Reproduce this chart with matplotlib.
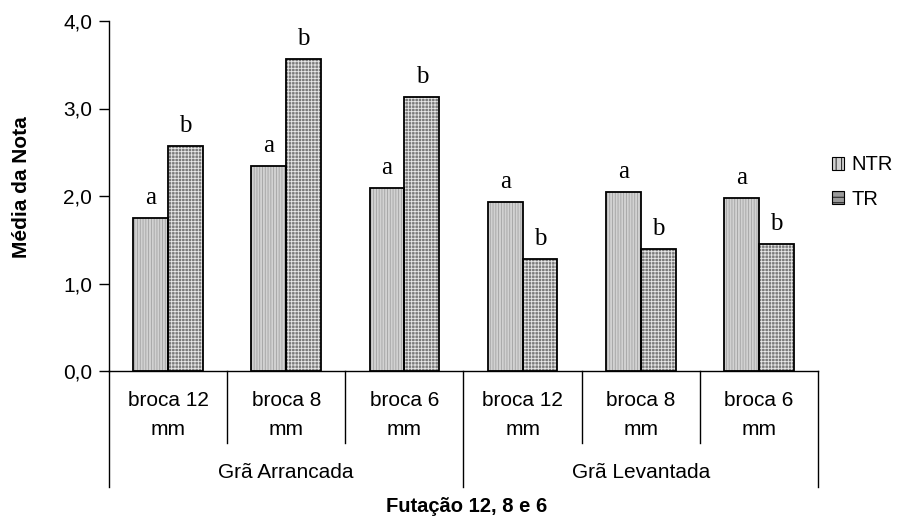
import matplotlib
matplotlib.use("Agg")
import matplotlib.pyplot as plt
import numpy as np
from matplotlib.patches import Patch
from matplotlib.lines import Line2D

categories = ["broca 12\nmm", "broca 8\nmm", "broca 6\nmm",
              "broca 12\nmm", "broca 8\nmm", "broca 6\nmm"]
groups = ["Grã Arrancada", "Grã Levantada"]
ntr = [1.75, 2.34, 2.09, 1.93, 2.05, 1.98]
tr = [2.57, 3.57, 3.13, 1.28, 1.40, 1.45]
ntr_letters = ["a", "a", "a", "a", "a", "a"]
tr_letters = ["b", "b", "b", "b", "b", "b"]
yticks = [0.0, 1.0, 2.0, 3.0, 4.0]
ytick_labels = ["0,0", "1,0", "2,0", "3,0", "4,0"]

plt.rcParams['font.family'] = ['Liberation Sans', 'DejaVu Sans']

FS = 15

fig = plt.figure(figsize=(8.99, 5.22), dpi=100)
ax = fig.add_axes([109/899, 1-371/522, (818-109)/899, 350/522])

x = np.arange(len(categories))
w = 0.295

# fills with hatch
plt.rcParams['hatch.linewidth'] = 0.6
ax.bar(x - w/2, ntr, w, color="#d2d2d2", edgecolor="#a2a2a2", hatch="||||||", linewidth=0, zorder=2)
ax.bar(x + w/2, tr, w, color="#7a7a7a", edgecolor="#e8e8e8", hatch="+++++", linewidth=0, zorder=2)
# outlines
ax.bar(x - w/2, ntr, w, fill=False, edgecolor="black", linewidth=1.3, zorder=3)
ax.bar(x + w/2, tr, w, fill=False, edgecolor="black", linewidth=1.3, zorder=3)

for xi, v, t in zip(x - w/2, ntr, ntr_letters):
    ax.annotate(t, (xi, v), xytext=(0, 10), textcoords="offset points", ha="center", va="baseline",
                fontsize=18, family="Liberation Serif")
for xi, v, t in zip(x + w/2, tr, tr_letters):
    ax.annotate(t, (xi, v), xytext=(0, 10), textcoords="offset points", ha="center", va="baseline",
                fontsize=18, family="Liberation Serif")

ax.set_xlim(-0.5, len(categories) - 0.5)
ax.set_ylim(0, 4)
ax.set_yticks(yticks)
ax.set_yticklabels(ytick_labels, fontsize=FS)
ax.tick_params(axis='y', direction='out', length=7, width=1, pad=5)
ax.set_xticks([])
for s in ["top", "right"]:
    ax.spines[s].set_visible(False)
ax.spines["left"].set_linewidth(1)
ax.spines["bottom"].set_linewidth(1)

fig.text(22/899, 1 - 187/522, "Média da Nota", rotation=90, ha="center", va="center",
         fontsize=FS, fontweight="bold")

ax_h_px = 350.0
def ydata(px_below):
    return -px_below / ax_h_px * 4

# category labels
for xi, c in zip(x, categories):
    ax.text(xi, ydata(20), c, ha="center", va="top", fontsize=FS,
            linespacing=1.65, clip_on=False)

# separators
for b in np.arange(0.5, len(categories) - 0.5, 1.0):
    if abs(b - 2.5) < 1e-6:
        continue
    ax.add_line(Line2D([b, b], [0, ydata(72)], color="black", linewidth=1, clip_on=False))
for b in [-0.5, 2.5, 5.5]:
    ax.add_line(Line2D([b, b], [0, ydata(116)], color="black", linewidth=1, clip_on=False))

for gi, g in enumerate(groups):
    ax.text(gi * 3 + 1, ydata(101), g, ha="center", va="center", fontsize=FS, clip_on=False)

fig.text(467/899, 1 - 506/522, "Futação 12, 8 e 6", ha="center", va="center",
         fontsize=14.5, fontweight="bold")

handles = [Patch(facecolor="#d2d2d2", edgecolor="black", hatch="|||", linewidth=0.8),
           Patch(facecolor="#9a9a9a", edgecolor="black", hatch="---", linewidth=0.8)]
fig.legend(handles, ["NTR", "TR"], loc="center left", bbox_to_anchor=(832/899, 1 - 182/522),
           frameon=False, fontsize=14.5, handlelength=0.6, handleheight=0.6, handletextpad=0.35,
           labelspacing=0.75, borderpad=0, borderaxespad=0)

fig.savefig("out.png", dpi=100, facecolor="white")
